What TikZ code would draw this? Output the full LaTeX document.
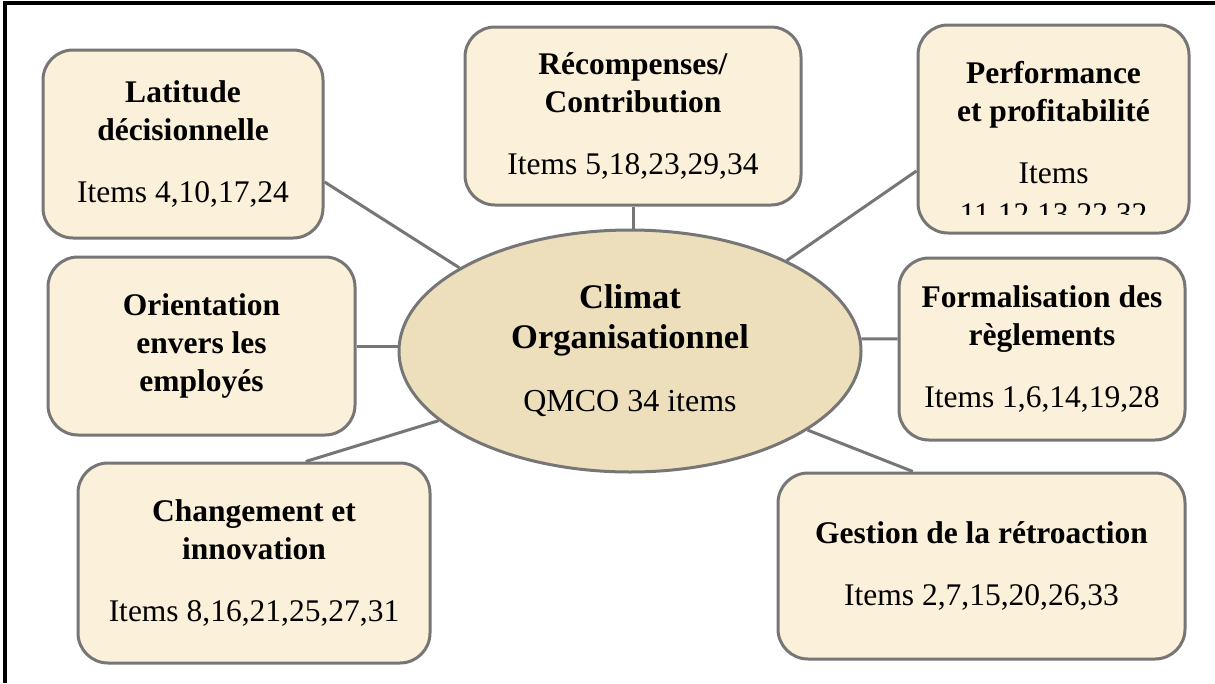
\documentclass[tikz,border=0pt]{standalone}
\usepackage{fontspec}
\setmainfont{Liberation Serif}
\usetikzlibrary{shapes.geometric}

\definecolor{cream}{HTML}{FBF0D9}
\definecolor{parchment}{HTML}{EDDFBC}
\definecolor{rim}{HTML}{767676}

\tikzset{
  dimbox/.style={draw=rim, line width=3pt, rounded corners=30pt, fill=cream,
    align=center, inner sep=0pt,
    font=\fontsize{31.5}{38}\selectfont},
  hub/.style={ellipse, draw=rim, line width=3pt, fill=parchment,
    align=center, inner sep=0pt,
    minimum width=462pt, minimum height=242pt,
    font=\fontsize{34.5}{40}\selectfont},
  link/.style={draw=rim, line width=3pt}
}

\begin{document}
\begin{tikzpicture}[x=1pt, y=-1pt]
\useasboundingbox (0,0) rectangle (1215,683);

% frame
\draw[line width=3.5pt] (5,683) -- (5,3) -- (1215,3);

% central concept
\node[hub] (c) at (630,351)
  {\textbf{Climat}\\\textbf{Organisationnel}\\[23pt]{\fontsize{32}{40}\selectfont QMCO 34 items}};

% dimensions
\node[dimbox, minimum width=280pt, minimum height=188pt] (lat) at (183,144)
  {\textbf{Latitude}\\\textbf{décisionnelle}\\[24pt]Items 4,10,17,24};

\node[dimbox, minimum width=336pt, minimum height=178pt] (rec) at (633,116)
  {\textbf{Récompenses/}\\\textbf{Contribution}\\[24pt]Items 5,18,23,29,34};

\node[dimbox, minimum width=271pt, minimum height=208pt] (perf) at (1053.5,129) {};
\begin{scope}
  % the last line runs past the lower edge of the text area
  \clip ([yshift=20pt]perf.south west) rectangle (perf.north east);
  \node[align=center, inner sep=0pt, anchor=north,
        font=\fontsize{31.5}{38}\selectfont] (perftext) at (1053.5,61.5)
    {\textbf{Performance}\\\textbf{et profitabilité}\\[24pt]Items\\[3pt]11,12,13,22,32};
\end{scope}

\node[dimbox, minimum width=307pt, minimum height=178pt] (ori) at (201.5,346)
  {\textbf{Orientation}\\\textbf{envers les}\\\textbf{employés}};

\node[dimbox, minimum width=286pt, minimum height=182pt] (form) at (1042,349)
  {\textbf{Formalisation des}\\\textbf{règlements}\\[24pt]Items 1,6,14,19,28};

\node[dimbox, minimum width=352pt, minimum height=200pt] (chg) at (254,563)
  {\textbf{Changement et}\\\textbf{innovation}\\[24pt]Items 8,16,21,25,27,31};

\node[dimbox, minimum width=407pt, minimum height=186pt] (ges) at (981.5,566)
  {\textbf{Gestion de la rétroaction}\\[24pt]Items 2,7,15,20,26,33};

% connectors
\path[link] (lat.-15) -- (c.154);
\path[link] (rec.south) -- (rec.south |- c.north);
\path[link] (perf.197.6) -- (c.30);
\path[link] (ori.east) -- (ori.east -| c.west);
\path[link] (form.176) -- (c.3);
\path[link] (chg.63.9) -- (c.200);
\path[link] (ges.126.4) -- (c.336.5);
\end{tikzpicture}
\end{document}
